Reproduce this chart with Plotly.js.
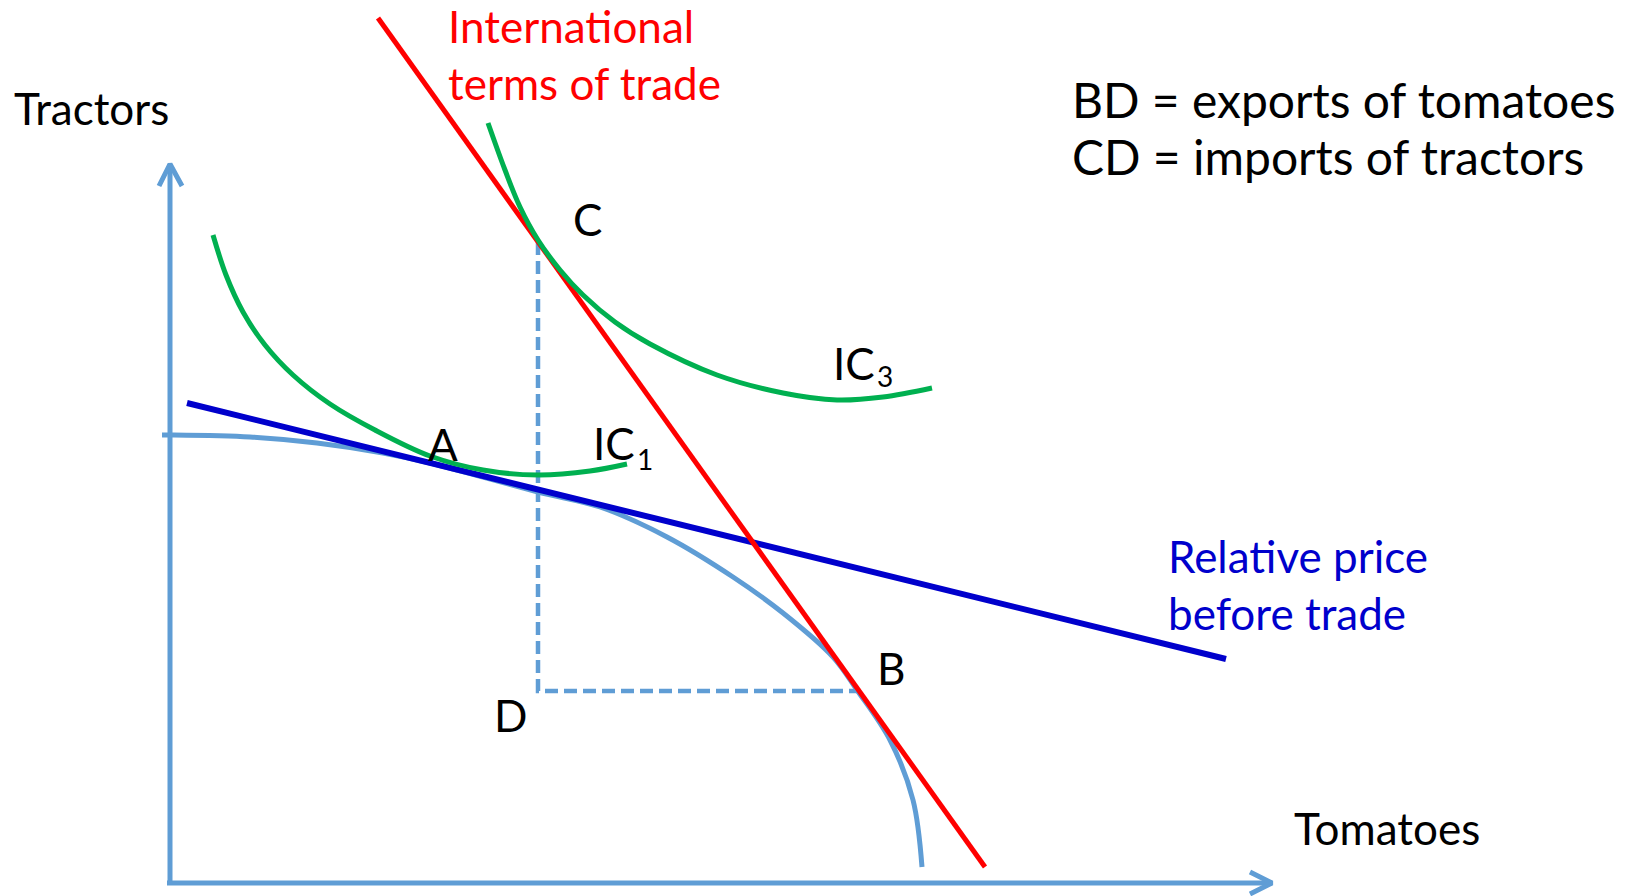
<!DOCTYPE html>
<html><head><meta charset="utf-8">
<script src="https://cdn.plot.ly/plotly-3.0.1.min.js"></script>
<style>html,body{margin:0;padding:0;background:#fff;overflow:hidden}#chart{width:1627px;height:896px}</style>
</head><body><div id="chart"></div>
<script>
// Quantities: x = tomatoes, y = tractors (origin at axis corner)
const ppfTomatoes = [-8, 0, 80, 147, 213, 260, 368, 430, 497, 563, 613, 663, 687, 720, 743, 752];
const ppfTractors = [448, 448, 446, 440, 430, 420, 391, 376, 346, 306, 270, 226, 193, 143, 83, 16];

const ic1Tomatoes = [43, 56, 73, 95, 123, 160, 205, 260, 313, 368, 420, 457];
const ic1Tractors = [648, 608, 571, 538, 508, 479, 453, 427, 413, 408, 412, 419];

const ic3Tomatoes = [318, 335, 350, 368, 390, 413, 445, 480, 547, 613, 667, 713, 762];
const ic3Tractors = [760, 713, 676, 643, 613, 588, 561, 539, 508, 490, 483, 486, 495];

const priceBeforeTomatoes = [17, 1056];
const priceBeforeTractors = [480, 224];

const termsTradeTomatoes = [208, 815];
const termsTradeTractors = [865, 16];

// Trade triangle C-D-B
const triangleTomatoes = [368, 368, 687];
const triangleTractors = [641, 192, 192];

// Axes with arrow heads
const yAxisTomatoes = [0, 0];
const yAxisTractors = [-2, 719];
const yArrowTomatoes = [-11, 0, 12];
const yArrowTractors = [697, 719, 697];
const xAxisTomatoes = [-3, 1102];
const xAxisTractors = [0, 0];
const xArrowTomatoes = [1080, 1102, 1080];
const xArrowTractors = [11, 0, -11];

// Labels
const pointLabels = ['C', 'A', 'B', 'D'];
const pointLabelX = [417, 273, 721, 340];
const pointLabelY = [664, 439, 215, 168];

const curveLabels = ['IC', 'IC'];
const curveLabelX = [422, 662];
const curveLabelY = [440, 520];
const curveSubs = ['1', '3'];
const curveSubX = [466, 706];
const curveSubY = [424, 507];

const axisBlue = '#5F9DD5';
const green = '#00B050';
const red = '#FF0000';
const darkBlue = '#0000CC';
const FONT = 'Lato, "Open Sans", sans-serif';
const FS = 44;

function line(x, y, color, width, extra) {
  return Object.assign({x: x, y: y, mode: 'lines', type: 'scatter', hoverinfo: 'skip',
    line: Object.assign({color: color, width: width}, extra || {})});
}

const traces = [
  line(yAxisTomatoes, yAxisTractors, axisBlue, 5),
  line(yArrowTomatoes, yArrowTractors, axisBlue, 5),
  line(xAxisTomatoes, xAxisTractors, axisBlue, 5),
  line(xArrowTomatoes, xArrowTractors, axisBlue, 5),
  line(ppfTomatoes, ppfTractors, axisBlue, 5, {shape: 'spline', smoothing: 1}),
  line(triangleTomatoes, triangleTractors, axisBlue, 4.5, {dash: '13px,6px'}),
  line(priceBeforeTomatoes, priceBeforeTractors, darkBlue, 6),
  line(termsTradeTomatoes, termsTradeTractors, red, 5),
  line(ic1Tomatoes, ic1Tractors, green, 5, {shape: 'spline', smoothing: 1}),
  line(ic3Tomatoes, ic3Tractors, green, 5, {shape: 'spline', smoothing: 1})
];

function txt(text, x, y, color, size, xanchor) {
  return {text: text, x: x, y: y, xref: 'x', yref: 'y', showarrow: false,
    xanchor: xanchor || 'left', yanchor: 'middle', borderpad: 0,
    font: {family: FONT, size: size || FS, color: color || '#000'}};
}

const annotations = [
  txt('Tractors', -157, 775),
  txt('Tomatoes', 1123, 55),
  txt('International', 277, 857, red),
  txt('terms of trade', 277, 800, red),
  txt('BD = exports of tomatoes', 901, 784, '#000', 48),
  txt('CD = imports of tractors', 901, 727, '#000', 48),
  txt('Relative price', 997, 327, darkBlue),
  txt('before trade', 997, 270, darkBlue)
];
curveLabels.forEach(function (t, i) {
  annotations.push(txt(t, curveLabelX[i], curveLabelY[i]));
  annotations.push(txt(curveSubs[i], curveSubX[i], curveSubY[i], '#000', 28));
});
pointLabels.forEach(function (t, i) {
  annotations.push(txt(t, pointLabelX[i], pointLabelY[i], '#000', FS, 'center'));
});

const layout = {
  width: 1627, height: 896,
  margin: {l: 0, r: 0, t: 0, b: 0, pad: 0},
  paper_bgcolor: '#fff', plot_bgcolor: '#fff',
  showlegend: false, hovermode: false,
  xaxis: {range: [-170, 1457], visible: false, fixedrange: true},
  yaxis: {range: [-13, 883], visible: false, fixedrange: true},
  annotations: annotations
};

Plotly.newPlot('chart', traces, layout, {staticPlot: true, displayModeBar: false});
</script>
</body></html>
